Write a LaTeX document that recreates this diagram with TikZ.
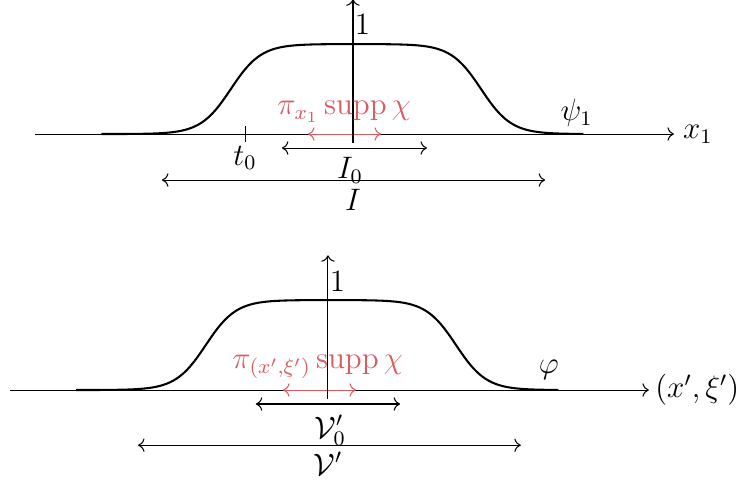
\documentclass[tikz,border=0pt]{standalone}
\usepackage{amsmath}
\usepackage{xcolor}
\usepackage{tikz}
\usetikzlibrary{positioning, arrows.meta}
\definecolor{suppred}{HTML}{D95C62}

\begin{document}
\begin{tikzpicture}[
    font=\large,
    axis/.style={->},
    bump/.style={thick, line join=round},
    span/.style={<->},
    supp/.style={<->, draw=suppred},
    supplabel/.style={text=suppred, inner sep=1pt},
    tick/.style={thin},
    node distance=0pt,
    declare function={th(\u)=tanh(max(-4,min(4,\u)));
                      bumpf(\x)=0.6115*(th(2.43*(\x+1.66)) - th(2.43*(\x-1.74)));}
]
\useasboundingbox (-4.796,1.821) rectangle (5.204,-4.742);

% --- Top: cut-off psi_1 along x_1 ---
\coordinate (xa1) at (-4.32,0);
\coordinate (xb1) at (4.36,0);
\coordinate (ya1) at (0,-0.12);
\coordinate (yb1) at (0,1.83);
\draw[axis] (xa1) -- (xb1);
\draw[bump] plot[domain=-3.42:3.13, samples=140] (\x, {bumpf(\x)});
\coordinate (sl1) at (-0.61,0);
\coordinate (sr1) at (0.38,0);
\draw[supp] (sl1) -- (sr1);
\draw[axis] (ya1) -- (yb1);

\coordinate (t0) at (-1.467,0);
\draw[tick] ([yshift=-0.11cm]t0) coordinate (t0b) -- ([yshift=0.11cm]t0);
\node[below=-2pt of t0b] (t0lab) {$t_0$};

\node (one1) at (0.13,1.49) {$1$};
\node[supplabel] (supp1) at (-0.12,0.30) {$\pi_{x_1}\operatorname{supp}\chi$};
\node (psi) at (3.04,0.285) {$\psi_1$};
\node[right=0pt of xb1] (x1lab) {$x_1$};

\coordinate (il0) at (-0.965,-0.19);
\coordinate (ir0) at (1.005,-0.19);
\draw[span] (il0) -- (ir0);
\node (I0lab) at (-0.04,-0.49) {$I_0$};

\coordinate (il) at (-2.595,-0.625);
\coordinate (ir) at (2.61,-0.625);
\draw[span] (il) -- (ir);
\node (Ilab) at (0,-0.90) {$I$};

% --- Bottom: cut-off phi along (x',xi') ---
\begin{scope}[shift={(-0.34,-3.478)}]
\coordinate (xa2) at (-4.32,0);
\coordinate (xb2) at (4.36,0);
\coordinate (ya2) at (0,-0.12);
\coordinate (yb2) at (0,1.83);
\draw[axis] (xa2) -- (xb2);
\draw[bump] plot[domain=-3.42:3.13, samples=140] (\x, {bumpf(\x)});
\coordinate (sl2) at (-0.61,0);
\coordinate (sr2) at (0.38,0);
\draw[supp] (sl2) -- (sr2);
\draw[axis] (ya2) -- (yb2);

\node (one2) at (0.13,1.47) {$1$};
\node[supplabel] (supp2) at (-0.14,0.31) {$\pi_{(x',\xi')}\operatorname{supp}\chi$};
\node (phi) at (3.0,0.27) {$\varphi$};
\node[right=-1pt of xb2] (xxilab) {$(x',\xi')$};

\coordinate (vl0) at (-0.98,-0.19);
\coordinate (vr0) at (0.98,-0.19);
\draw[span] (vl0) -- (vr0);
\node (V0lab) at (0.03,-0.55) {$\mathcal{V}'_0$};

\coordinate (vl) at (-2.58,-0.75);
\coordinate (vr) at (2.62,-0.75);
\draw[span] (vl) -- (vr);
\node (Vlab) at (0,-1.0) {$\mathcal{V}'$};
\end{scope}

\end{tikzpicture}
\end{document}
